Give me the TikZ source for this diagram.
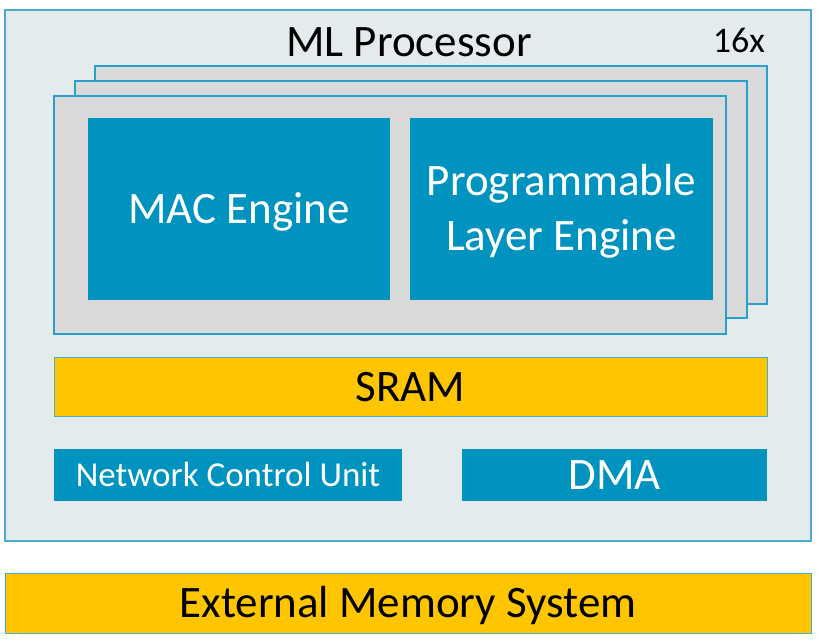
\documentclass[tikz,border=0pt]{standalone}
\usepackage{fontspec}
\setmainfont{Carlito}
\usepackage{tikz}
\usetikzlibrary{positioning}

\definecolor{procfill}{RGB}{228,235,236}
\definecolor{procline}{RGB}{75,172,206}
\definecolor{layerline}{RGB}{40,160,206}
\definecolor{layerfill}{RGB}{217,217,217}
\definecolor{engblue}{RGB}{0,147,191}
\definecolor{memyellow}{RGB}{255,198,0}

\begin{document}
\begin{tikzpicture}[x=1pt, y=-1pt,
    layer/.style={draw=layerline, fill=layerfill, line width=1.6pt},
    engine/.style={rectangle, fill=engblue, text=white, inner sep=0pt, align=center,
        text height=29pt, text depth=0pt, font=\fontsize{45}{55}\selectfont},
    memory/.style={rectangle, draw=procline, line width=0.8pt, fill=memyellow, inner sep=0pt,
        text height=29pt, text depth=0pt, font=\fontsize{45}{55}\selectfont}]

    \useasboundingbox (0,0) rectangle (818,643);

    % processor frame
    \draw[procline, fill=procfill, line width=1.2pt] (5,10) rectangle (811,541);
    \node[anchor=base, font=\fontsize{45}{54}\selectfont] (title) at (409,56) {ML Processor};
    \node[anchor=base, font=\fontsize{36}{43}\selectfont] (count) at (739,52) {16x};

    % stacked layers
    \draw[layer] (95,66) rectangle (767,304);
    \draw[layer] (75,81) rectangle (747,318);
    \draw[layer] (54,96) rectangle (726,334);

    \node[engine, minimum width=302, minimum height=182] (mac) at (239,209) {MAC Engine};
    \node[engine, minimum width=303, minimum height=182, text height=82pt] (ple) at (561.5,209) {Programmable\\Layer Engine};

    \node[memory, minimum width=713, minimum height=59] (sram) at (410.5,387) {SRAM};

    \node[engine, minimum width=348, minimum height=52, text height=22.5pt,
        font=\fontsize{35}{42}\selectfont] (ncu) at (228,475) {Network Control Unit};
    \node[engine, minimum width=305, minimum height=52] (dma) at (614.5,475) {DMA};

    \node[memory, minimum width=806, minimum height=60] (ext) at (408,603) {External Memory System};
\end{tikzpicture}
\end{document}
